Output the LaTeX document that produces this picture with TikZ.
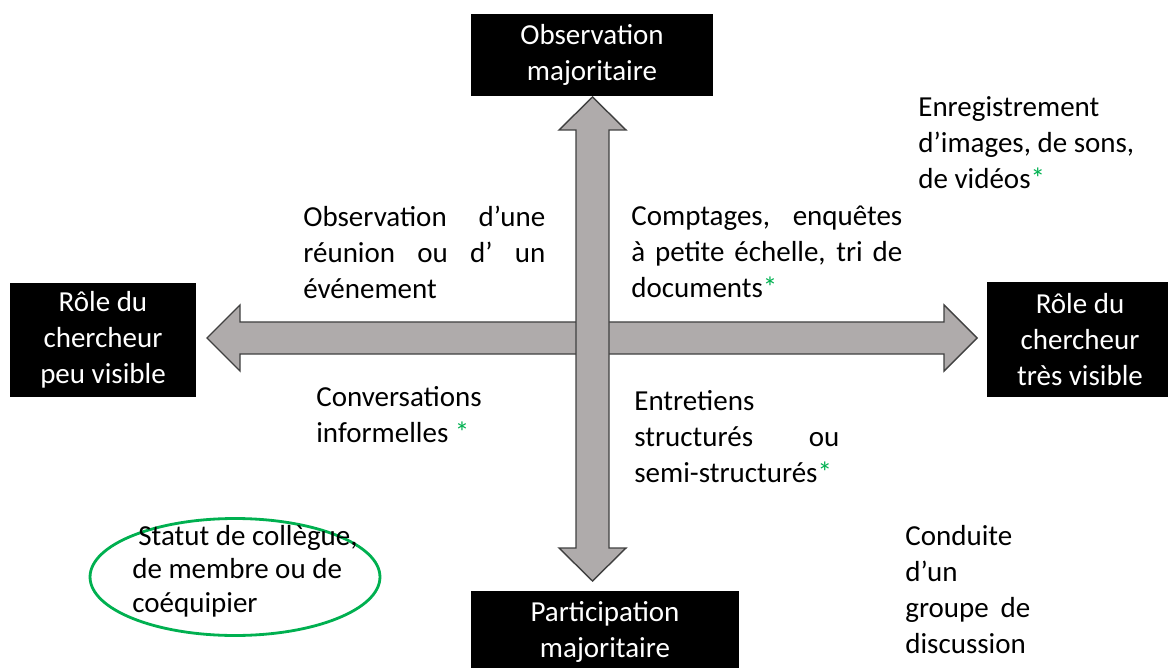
\documentclass[tikz,border=0pt]{standalone}
\usepackage{fontspec}
\setmainfont{Carlito}
\usepackage{xcolor}
\usepackage{tikz}
\usetikzlibrary{shapes.geometric}
\definecolor{arrowgray}{RGB}{175,171,171}
\definecolor{okgreen}{RGB}{0,176,80}
\newcommand{\gstar}{\textcolor{okgreen}{*}}

\begin{document}
\begin{tikzpicture}[
  x=0.02cm, y=-0.02cm,
  every node/.style = {font=\fontsize{16.5}{20.5}\selectfont, inner sep=0pt},
  blackbox/.style = {fill=black, text=white, align=center},
  note/.style = {anchor=west, align=justify},
  bigarrow/.style = {draw=black!75, fill=arrowgray, line width=0.8pt, line join=miter},
]
\useasboundingbox (0,0) rectangle (1168,668);

% axes
\draw[bigarrow] (207,338) -- (240,305) -- (240,322) -- (944,322) -- (944,305) -- (977,338)
  -- (944,371) -- (944,354) -- (240,354) -- (240,371) -- cycle;
\draw[bigarrow] (592.5,97) -- (626,130) -- (609,130) -- (609,548) -- (626,548) -- (592.5,581)
  -- (559,548) -- (576,548) -- (576,130) -- (559,130) -- cycle;

% poles
\node[blackbox, minimum width=4.86cm, minimum height=1.64cm] (obsmaj) at (592,55) {Observation\\majoritaire};
\node[blackbox, minimum width=5.36cm, minimum height=1.64cm] (partmaj) at (605,631.5) {Participation\\majoritaire};
\node[blackbox, minimum width=3.72cm, minimum height=2.3cm] (peuvis) at (103,340) {Rôle du\\chercheur\\peu visible};
\node[blackbox, minimum width=3.72cm, minimum height=2.3cm] (tresvis) at (1080,339.5) {Rôle du\\chercheur\\très visible};

% techniques
\node[note, text width=4.84cm] (reunion) at (303,252) {Observation d’une\linebreak réunion ou d’ un\linebreak événement};
\node[note, text width=5.42cm] (comptages) at (631,252) {Comptages, enquêtes\linebreak à petite échelle, tri de\linebreak documents\gstar};
\node[note, align=left] (enreg) at (918,143) {Enregistrement\\d’images, de sons,\\de vidéos\gstar};
\node[note, align=left] (convers) at (316,415) {Conversations\\informelles \gstar};
\node[note, text width=4.1cm] (entretiens) at (634,437) {Entretiens\linebreak structurés ou\linebreak semi-structurés\gstar};
\node[note, text width=2.5cm] (conduite) at (905,590) {Conduite\linebreak d’un\linebreak groupe de\linebreak discussion};

% statut
\node[ellipse, draw=okgreen, line width=1.6pt, minimum width=5.8cm, minimum height=2.34cm] (oval) at (235,577) {};
\node[anchor=west, align=left, font=\fontsize{16.5}{19}\selectfont] (statut) at (132,571) {\hspace*{0.12cm}Statut de collègue,\\de membre ou de\\coéquipier};
\end{tikzpicture}
\end{document}
